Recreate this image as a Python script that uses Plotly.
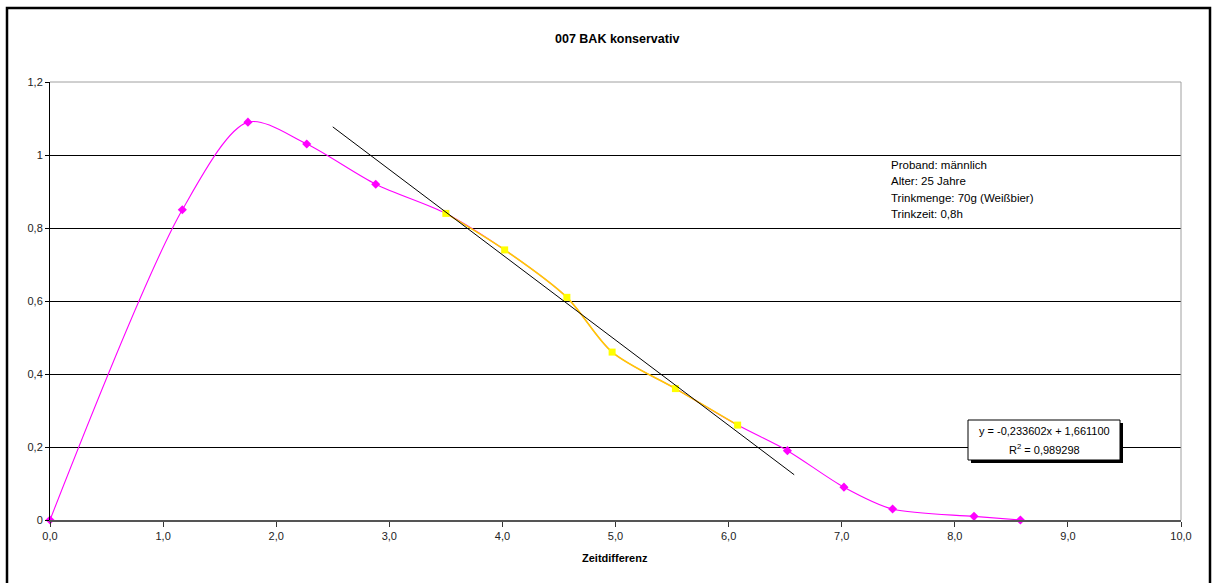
import plotly.graph_objects as go

# ---------------- data ----------------
zeit = [0.0, 1.17, 1.75, 2.27, 2.88, 3.50, 4.02, 4.57, 4.97, 5.53, 6.08, 6.52, 7.02, 7.45, 8.17, 8.58]
bak = [0.0, 0.85, 1.09, 1.03, 0.92, 0.84, 0.74, 0.61, 0.46, 0.36, 0.26, 0.19, 0.09, 0.03, 0.01, 0.0]

zeit_elim = [3.50, 4.02, 4.57, 4.97, 5.53, 6.08]
bak_elim = [0.84, 0.74, 0.61, 0.46, 0.36, 0.26]

trend_slope = -0.233602
trend_intercept = 1.661100
trend_r2 = 0.989298
trend_x = [2.5, 6.58]

x_tickvals = [0, 1, 2, 3, 4, 5, 6, 7, 8, 9, 10]
x_ticktext = ["0,0", "1,0", "2,0", "3,0", "4,0", "5,0", "6,0", "7,0", "8,0", "9,0", "10,0"]
y_tickvals = [0, 0.2, 0.4, 0.6, 0.8, 1.0, 1.2]
y_ticktext = ["0", "0,2", "0,4", "0,6", "0,8", "1", "1,2"]

info_lines = ["Proband: männlich", "Alter: 25 Jahre", "Trinkmenge: 70g (Weißbier)", "Trinkzeit: 0,8h"]
title_text = "007 BAK konservativ"
x_title = "Zeitdifferenz"

# ---------------- layout geometry ----------------
W, H = 1212, 583
ML, MR, MT, MB = 50, 31, 82, 63
PW, PH = W - ML - MR, H - MT - MB


def px2paper(px):
    return (px - ML) / PW


def py2paper(py):
    return (H - MB - py) / PH


FONT = "Liberation Sans, Arial, sans-serif"
PINK = "#FF00FF"

elim_set = set(zeit_elim)
pink_marker_x = [x for x in zeit if x not in elim_set]
pink_marker_y = [y for x, y in zip(zeit, bak) if x not in elim_set]

trend_y = [trend_slope * x + trend_intercept for x in trend_x]

fig = go.Figure()
fig.add_trace(go.Scatter(x=zeit, y=bak, mode="lines",
                         line=dict(color=PINK, width=1.1, shape="spline", smoothing=0.85),
                         cliponaxis=False, hoverinfo="skip"))
fig.add_trace(go.Scatter(x=pink_marker_x, y=pink_marker_y, mode="markers",
                         marker=dict(symbol="diamond", size=7, color=PINK),
                         cliponaxis=False))
fig.add_trace(go.Scatter(x=zeit_elim, y=bak_elim, mode="lines+markers",
                         line=dict(color="#FFCC00", width=1.6, shape="spline", smoothing=0.85),
                         marker=dict(symbol="square", size=7, color="#FFFF00"),
                         cliponaxis=False))
fig.add_trace(go.Scatter(x=trend_x, y=trend_y, mode="lines",
                         line=dict(color="black", width=1), hoverinfo="skip"))

shapes = []
# outer frame
shapes.append(dict(type="rect", xref="paper", yref="paper",
                   x0=px2paper(7), x1=px2paper(1210), y0=py2paper(600), y1=py2paper(8),
                   line=dict(color="black", width=2.5), fillcolor="rgba(0,0,0,0)", layer="above"))
# top and right plot border (light grey)
shapes.append(dict(type="line", xref="paper", yref="paper", x0=0, x1=1, y0=1, y1=1,
                   line=dict(color="#A0A0A0", width=1), layer="above"))
shapes.append(dict(type="line", xref="paper", yref="paper", x0=1, x1=1, y0=0, y1=1,
                   line=dict(color="#A0A0A0", width=1), layer="above"))
# equation box with shadow
bx0, bx1, by0, by1 = 968, 1120, 420, 460
shapes.append(dict(type="rect", xref="paper", yref="paper",
                   x0=px2paper(bx0 + 3), x1=px2paper(bx1 + 3), y0=py2paper(by1 + 3), y1=py2paper(by0 + 3),
                   line=dict(width=0), fillcolor="black", layer="above"))
shapes.append(dict(type="rect", xref="paper", yref="paper",
                   x0=px2paper(bx0), x1=px2paper(bx1), y0=py2paper(by1), y1=py2paper(by0),
                   line=dict(color="black", width=1), fillcolor="white", layer="above"))

annotations = []
annotations.append(dict(text="<b>" + title_text + "</b>", xref="paper", yref="paper",
                        x=px2paper(617), y=py2paper(39), xanchor="center", yanchor="middle",
                        showarrow=False, font=dict(family=FONT, size=12.5, color="black")))
annotations.append(dict(text="<b>" + x_title + "</b>", xref="paper", yref="paper",
                        x=px2paper(615), y=py2paper(558), xanchor="center", yanchor="middle",
                        showarrow=False, font=dict(family=FONT, size=11, color="black")))
for i, line in enumerate(info_lines):
    annotations.append(dict(text=line, xref="paper", yref="paper",
                            x=px2paper(889), y=py2paper(165 + i * 16.3), xanchor="left", yanchor="middle",
                            showarrow=False, font=dict(family=FONT, size=11.5, color="black")))
eq_text = "y = " + f"{trend_slope:.6f}".replace(".", ",") + "x + " + f"{trend_intercept:.6f}".replace(".", ",")
r2_text = "R<sup>2</sup> = " + f"{trend_r2:.6f}".replace(".", ",")
annotations.append(dict(text=eq_text, xref="paper", yref="paper",
                        x=px2paper((bx0 + bx1) / 2), y=py2paper(431), xanchor="center", yanchor="middle",
                        showarrow=False, font=dict(family=FONT, size=11, color="black")))
annotations.append(dict(text=r2_text, xref="paper", yref="paper",
                        x=px2paper((bx0 + bx1) / 2), y=py2paper(449), xanchor="center", yanchor="middle",
                        showarrow=False, font=dict(family=FONT, size=11, color="black")))

fig.update_layout(
    width=W, height=H,
    margin=dict(l=ML, r=MR, t=MT, b=MB, pad=0),
    paper_bgcolor="white", plot_bgcolor="white",
    showlegend=False,
    font=dict(family=FONT, size=11, color="black"),
    shapes=shapes, annotations=annotations,
    xaxis=dict(range=[0, 10], tickvals=x_tickvals, ticktext=x_ticktext,
               showgrid=False, zeroline=False, showline=True, linecolor="#555555", linewidth=2,
               ticks="outside", ticklen=5, tickcolor="#333333", tickwidth=1,
               tickfont=dict(family=FONT, size=11, color="#222222")),
    yaxis=dict(range=[0, 1.2], tickvals=y_tickvals, ticktext=y_ticktext,
               showgrid=True, gridcolor="black", gridwidth=1, zeroline=False,
               showline=True, linecolor="black", linewidth=1,
               ticks="outside", ticklen=4, tickcolor="black", tickwidth=1,
               tickfont=dict(family=FONT, size=11, color="#222222")),
)

fig.write_html("out.html")
